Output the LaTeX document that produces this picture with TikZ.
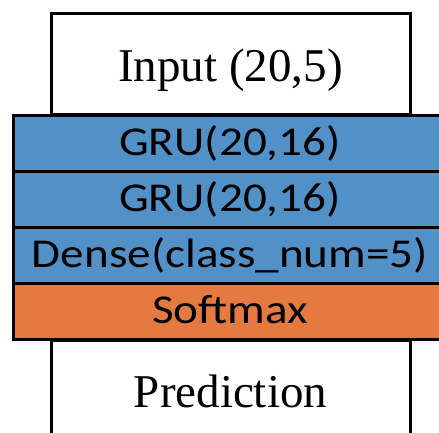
\documentclass[tikz,border=0pt]{standalone}
\usepackage{fontspec}
\usepackage{tikz}
\usetikzlibrary{positioning}
\setmainfont{Liberation Serif}
\newfontfamily\carlito{Carlito}
\definecolor{layerblue}{RGB}{82,144,200}
\definecolor{layerorange}{RGB}{229,122,64}

\begin{document}
\begin{tikzpicture}[x=1pt, y=-1pt,
        iobox/.style={draw, line width=3pt, outer sep=0pt, inner sep=0pt, minimum width=359pt, text height=35pt, text depth=0pt, font=\fontsize{47}{50}\selectfont},
        layer/.style={draw, line width=3pt, outer sep=0pt, inner sep=0pt, minimum width=434pt, minimum height=56pt, text height=23pt, text depth=0pt, font=\fontsize{41}{44}\carlito}]
        \useasboundingbox (0,0) rectangle (439,433);
        \clip (0,0) rectangle (439,433);

        % Input and prediction boxes
        \node[iobox, minimum height=101pt] (input) at (230.5,64.5) {Input (20,5)};
        \node[iobox, minimum height=100pt] (pred) at (230.5,390) {Prediction};

        % Layer stack
        \node[layer, fill=layerblue] (gru1) at (230,143.5) {\scalebox{1.15}[1]{GRU(20,16)}};
        \node[layer, fill=layerblue, below=0pt of gru1] (gru2) {\scalebox{1.15}[1]{GRU(20,16)}};
        \node[layer, fill=layerblue, below=0pt of gru2] (dense) {\scalebox{1.15}[1]{Dense(class\_num=5)}};
        \node[layer, fill=layerorange, below=0pt of dense] (softmax) {\scalebox{1.15}[1]{Softmax}};
    \end{tikzpicture}
\end{document}
